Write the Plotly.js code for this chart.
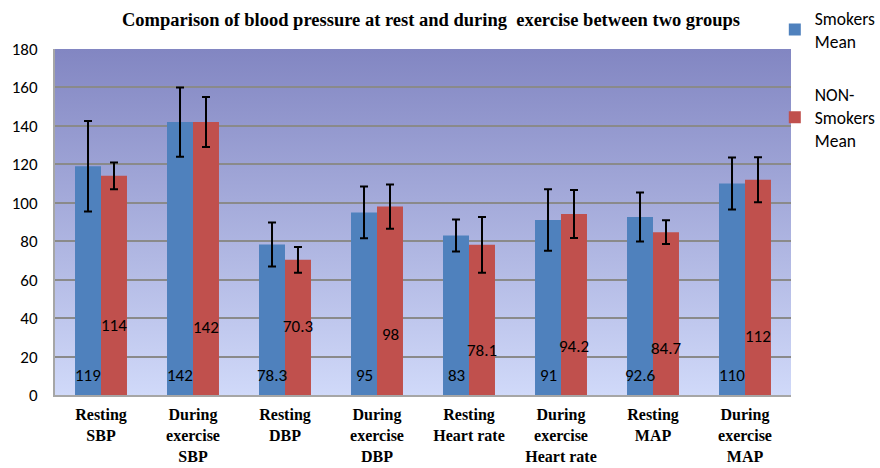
<!DOCTYPE html>
<html><head><meta charset="utf-8">
<script src="https://cdn.plot.ly/plotly-3.0.1.min.js"></script>
<style>html,body{margin:0;padding:0;background:#fff}#c{width:880px;height:468px}</style>
</head><body><div id="c"></div>
<script>
const categories = ["Resting<br>SBP","During<br>exercise<br>SBP","Resting<br>DBP","During<br>exercise<br>DBP","Resting<br>Heart rate","During<br>exercise<br>Heart rate","Resting<br>MAP","During<br>exercise<br>MAP"];
const smokersMean = [119, 142, 78.3, 95, 83, 91, 92.6, 110];
const smokersSD = [23.5, 18, 11.5, 13.5, 8.3, 16, 12.8, 13.5];
const nonSmokersMean = [114, 142, 70.3, 98, 78.1, 94.2, 84.7, 112];
const nonSmokersSD = [7, 13, 6.7, 11.5, 14.5, 12.5, 6.2, 11.7];
const smokersLabel = ["119","142","78.3","95","83","91","92.6","110"];
const nonSmokersLabel = ["114","142","70.3","98","78.1","94.2","84.7","112"];
const yTicks = [0,20,40,60,80,100,120,140,160,180];

const smokersLabelY = [10,10,10,10,10,10,10,10];
const nonSmokersLabelY = [36.4,35,35.5,31.7,23,25,24,30.3];

const lblFont = {family:"Carlito, Lato, 'Open Sans', sans-serif", size:17, color:"#000"};
const eb = a => ({type:"data", array:a, visible:true, color:"#000", thickness:2, width:4});

const traces = [
  {type:"bar", name:"Smokers<br>Mean", x:categories, y:smokersMean, marker:{color:"#4f81bd"}, error_y:eb(smokersSD), legendgroup:"a", hoverinfo:"none"},
  {type:"bar", name:"NON-<br>Smokers<br>Mean", x:categories, y:nonSmokersMean, marker:{color:"#c0504d"}, error_y:eb(nonSmokersSD), legendgroup:"b", hoverinfo:"none"}
];

const annotations = [];
categories.forEach((c,i)=>{
  annotations.push({x:c, y:smokersLabelY[i], xref:"x", yref:"y", text:smokersLabel[i], showarrow:false, xshift:-13, font:lblFont});
  annotations.push({x:c, y:nonSmokersLabelY[i], xref:"x", yref:"y", text:nonSmokersLabel[i], showarrow:false, xshift:13, font:lblFont});
});

const svg = "<svg xmlns='http://www.w3.org/2000/svg' width='10' height='100' viewBox='0 0 10 100' preserveAspectRatio='none'><defs><linearGradient id='g' x1='0' y1='0' x2='0' y2='1'><stop offset='0' stop-color='#8286c2'/><stop offset='1' stop-color='#d0d9f9'/></linearGradient></defs><rect width='10' height='100' fill='url(#g)'/></svg>";
const bgUri = "data:image/svg+xml;charset=utf-8," + encodeURIComponent(svg);

const layout = {
  width:880, height:468,
  margin:{l:55, r:89, t:49, b:73, autoexpand:false},
  paper_bgcolor:"#fff", plot_bgcolor:"rgba(0,0,0,0)",
  title:{text:"<b>Comparison of blood pressure at rest and during  exercise between two groups</b>", font:{family:"'Liberation Serif', 'Times New Roman', serif", size:18.5, color:"#000"}, x:431/880, xanchor:"center", y:1-20/468, yanchor:"middle"},
  barmode:"group", bargap:0.435, bargroupgap:0,
  xaxis:{tickfont:{family:"'Liberation Serif', 'Times New Roman', serif", size:16, color:"#000"}, showline:true, linecolor:"#a6a6a6", linewidth:2, ticks:"", showgrid:false, tickprefix:"<b>", ticksuffix:"</b>", ticklabelstandoff:4},
  yaxis:{range:[0,180], tickvals:yTicks, tickfont:{family:"Carlito, Lato, 'Open Sans', sans-serif", size:17, color:"#000"}, showgrid:true, gridcolor:"#8a8a8a", gridwidth:2, showline:true, linecolor:"#a6a6a6", linewidth:2, zeroline:false, ticks:"", ticklabelstandoff:12},
  legend:{x:0.978, xanchor:"left", y:1.141, yanchor:"top", font:{family:"Carlito, Lato, 'Open Sans', sans-serif", size:17.5, color:"#000"}, tracegroupgap:28, itemwidth:30, bgcolor:"rgba(0,0,0,0)"},
  annotations:annotations,
  images:[{source:bgUri, xref:"paper", yref:"paper", x:0, y:1, sizex:1, sizey:1, sizing:"stretch", layer:"below", xanchor:"left", yanchor:"top"}]
};
Plotly.newPlot("c", traces, layout, {displayModeBar:false, staticPlot:true});
</script></body></html>
